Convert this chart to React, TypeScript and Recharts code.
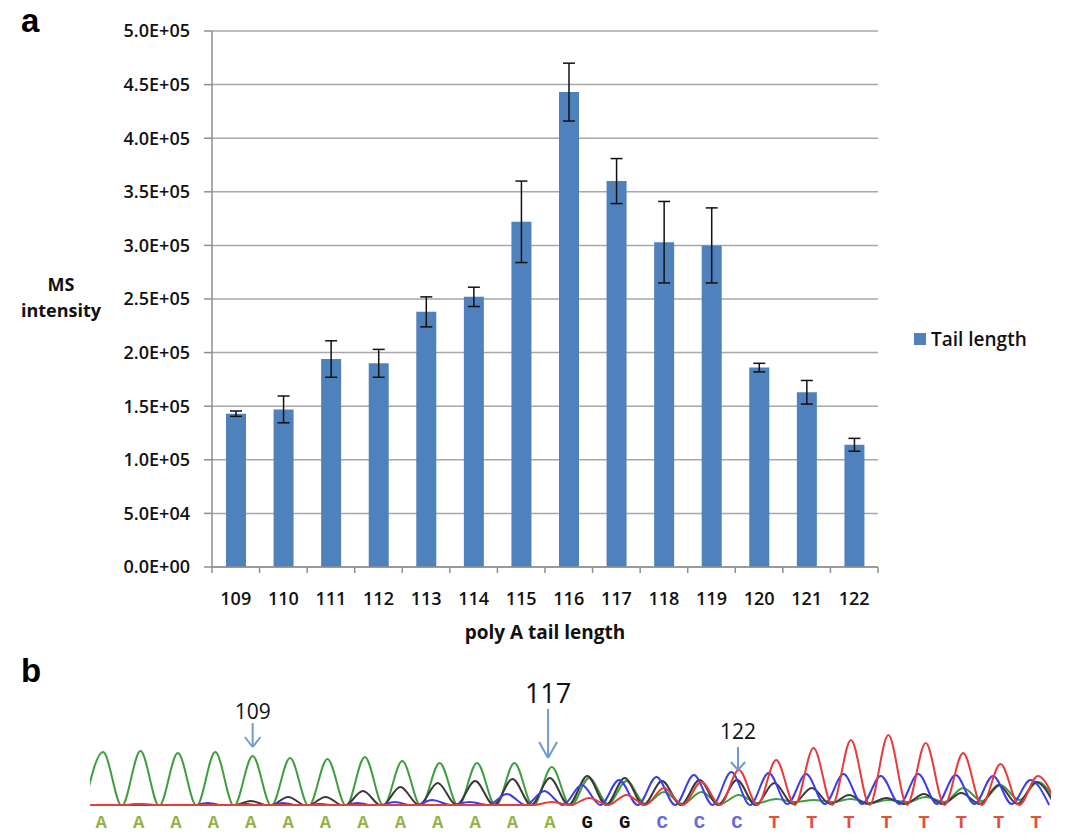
import {
  BarChart,
  Bar,
  ErrorBar,
  XAxis,
  YAxis,
  CartesianGrid,
  Legend,
  Label,
  LineChart,
  Line,
  ReferenceLine,
} from 'recharts'

// panel a: MS intensity per poly A tail length
const tailLengths = ['109', '110', '111', '112', '113', '114', '115', '116', '117', '118', '119', '120', '121', '122']
const msIntensity = [143000, 147000, 194000, 190000, 238000, 252000, 322000, 443000, 360000, 303000, 300000, 186000, 163000, 114000]
const msError = [2500, 12500, 17000, 13000, 14000, 9000, 38000, 27000, 21000, 38000, 35000, 4000, 11000, 6000]
const intensityTicks = [0, 50000, 100000, 150000, 200000, 250000, 300000, 350000, 400000, 450000, 500000]

// panel b: sequencing trace, peak heights per called base
const bases = ['A', 'A', 'A', 'A', 'A', 'A', 'A', 'A', 'A', 'A', 'A', 'A', 'A', 'G', 'G', 'C', 'C', 'C', 'T', 'T', 'T', 'T', 'T', 'T', 'T', 'T']
const greenPeaks = [54, 55, 53, 54, 50, 48, 47, 49, 45, 43, 43, 43, 39, 28, 25, 14, 14, 11, 7, 6, 7, 6, 9, 18, 21, 24]
const greenTroughs = [0, 0, 0, 0, 0, 0, 0, 0, 0, 0, 0, 0, 0, 0, 2, 2, 2, 2, 3, 4, 4, 3, 4, 4, 5, 6, 2]
const blackPeaks = [1, 2, 1, 1, 5, 9, 9, 15, 19, 23, 25, 27, 28, 30, 28, 25, 26, 26, 23, 18, 11, 8, 12, 13, 21, 24]
const blackTroughs = [0, 0, 0, 0, 0, 0, 0, 0, 0, 1, 1, 1, 1, 1, 1, 1, 1, 1, 1, 2, 2, 2, 2, 2, 2, 2, 1]
const bluePeaks = [1, 1, 1, 3, 2, 3, 2, 3, 4, 6, 4, 12, 15, 21, 26, 29, 31, 34, 33, 32, 32, 30, 32, 31, 30, 26]
const blueTroughs = [0, 0, 0, 0, 0, 0, 0, 0, 0, 0, 1, 1, 1, 1, 1, 1, 1, 1, 1, 2, 2, 2, 2, 2, 2, 2, 1]
const redPeaks = [1, 2, 1, 1, 1, 1, 1, 1, 1, 1, 1, 1, 4, 8, 11, 18, 24, 36, 46, 58, 66, 71, 63, 53, 42, 30]
const redTroughs = [1, 1, 1, 1, 1, 1, 1, 1, 1, 1, 1, 1, 1, 1, 1, 1, 1, 1, 1, 1, 1, 1, 1, 1, 1, 1, 1]

const barData = tailLengths.map((len, i) => ({ len, value: msIntensity[i], err: msError[i] }))

function traceRows(peaks: number[], troughs: number[], shift: number) {
  const rows: { x: number; y: number }[] = []
  peaks.forEach((h, i) => {
    rows.push({ x: i - 0.5 + shift, y: troughs[i] })
    rows.push({ x: i + shift, y: h })
  })
  rows.push({ x: peaks.length - 0.5 + shift, y: troughs[peaks.length] })
  return rows
}

const greenRows = traceRows(greenPeaks, greenTroughs, 0.05)
const blackRows = traceRows(blackPeaks, blackTroughs, 0)
const blueRows = traceRows(bluePeaks, blueTroughs, -0.15)
const redRows = traceRows(redPeaks, redTroughs, 0.05)

const baseColors: Record<string, string> = { A: '#93b447', G: '#111111', C: '#6a6ad8', T: '#e4503c' }

const PLOT_W = 666
const STEP = PLOT_W / tailLengths.length
const AXIS_GREY = '#8e8e8e'

function fmtSci(v: number) {
  const [m, e] = v.toExponential(1).split('e')
  return `${m}E${e[0]}${e.slice(1).padStart(2, '0')}`
}

function LengthTick(props: any) {
  const { x, y, payload, index } = props
  const left = x - STEP / 2
  return (
    <g>
      <line x1={left} x2={left} y1={y} y2={y + 6} stroke={AXIS_GREY} strokeWidth={1.5} />
      {index === tailLengths.length - 1 && (
        <line x1={x + STEP / 2} x2={x + STEP / 2} y1={y} y2={y + 6} stroke={AXIS_GREY} strokeWidth={1.5} />
      )}
      <text x={x} y={y + 38} textAnchor="middle" fontSize={18} fontWeight={600} fill="#111" fontFamily="Open Sans">
        {payload.value}
      </text>
    </g>
  )
}

function MsLabel(props: any) {
  const { viewBox } = props
  const cx = viewBox.x + 61
  return (
    <text x={cx} y={viewBox.y + 260} textAnchor="middle" fontSize={18} fontWeight={700} fill="#111" fontFamily="Open Sans">
      <tspan x={cx}>MS</tspan>
      <tspan x={cx} dy={26}>intensity</tspan>
    </text>
  )
}

function TailLabel(props: any) {
  const { viewBox } = props
  return (
    <text x={viewBox.x + viewBox.width / 2} y={viewBox.y + 72} textAnchor="middle" fontSize={19} fontWeight={700} fill="#111" fontFamily="Open Sans">
      poly A tail length
    </text>
  )
}

function LegendBox() {
  return (
    <div style={{ display: 'flex', alignItems: 'center', fontFamily: 'Open Sans', fontSize: 19, fontWeight: 600, color: '#111' }}>
      <span style={{ width: 12, height: 12, background: '#4f81bd', marginRight: 5, display: 'inline-block' }} />
      Tail length
    </div>
  )
}

function BaseTick(props: any) {
  const { x, y, payload } = props
  const b = bases[payload.value]
  return (
    <text x={x} y={y + 22} textAnchor="middle" fontSize={19} fontWeight={700} fill={baseColors[b]} fontFamily="Liberation Mono">
      {b}
    </text>
  )
}

const arrow = { stroke: '#6f9bd1', strokeWidth: 2 }

export default function App() {
  return (
    <div style={{ position: 'absolute', left: 0, top: 0, width: 1068, height: 840, background: '#fff', fontFamily: 'Open Sans' }}>
      <div style={{ position: 'absolute', left: 21, top: 2, fontFamily: 'Liberation Sans', fontWeight: 700, fontSize: 33, lineHeight: '38px' }}>a</div>
      <div style={{ position: 'absolute', left: 21, top: 652, fontFamily: 'Liberation Sans', fontWeight: 700, fontSize: 33, lineHeight: '38px' }}>b</div>

      <div style={{ position: 'absolute', left: 0, top: 0 }}>
        <BarChart width={1068} height={660} data={barData} margin={{ top: 31, right: 190, bottom: 13, left: 0 }}>
          <CartesianGrid vertical={false} stroke="#a8a8a8" strokeWidth={1.5} />
          <XAxis
            dataKey="len"
            height={80}
            interval={0}
            tickSize={0}
            tickMargin={0}
            tickLine={false}
            axisLine={{ stroke: AXIS_GREY, strokeWidth: 1.5 }}
            tick={<LengthTick />}
          >
            <Label content={<TailLabel />} />
          </XAxis>
          <YAxis
            width={212}
            domain={[0, 500000]}
            ticks={intensityTicks}
            interval={0}
            tickFormatter={fmtSci}
            tickSize={8}
            tickMargin={14}
            tickLine={{ stroke: AXIS_GREY, strokeWidth: 1.5 }}
            axisLine={{ stroke: AXIS_GREY, strokeWidth: 1.5 }}
            tick={{ fill: '#111', fontSize: 18, fontWeight: 600, fontFamily: 'Open Sans' }}
          >
            <Label content={<MsLabel />} />
          </YAxis>
          <Legend
            layout="horizontal"
            align="center"
            verticalAlign="middle"
            content={<LegendBox />}
            wrapperStyle={{ left: 914, top: 326, width: 150 }}
          />
          <Bar dataKey="value" name="Tail length" fill="#4f81bd" barSize={20} isAnimationActive={false}>
            <ErrorBar dataKey="err" width={6} stroke="#111" strokeWidth={1.5} />
          </Bar>
        </BarChart>
      </div>

      <div style={{ position: 'absolute', left: 0, top: 640 }}>
        <LineChart width={1068} height={200} margin={{ top: 46, right: 17, bottom: 0, left: 90 }}>
          <XAxis
            type="number"
            dataKey="x"
            domain={[-0.3, 25.4]}
            allowDataOverflow
            ticks={bases.map((_, i) => i)}
            interval={0}
            height={34}
            tickSize={0}
            tickMargin={0}
            tickLine={false}
            axisLine={false}
            tick={<BaseTick />}
          />
          <YAxis hide type="number" domain={[0, 120]} allowDataOverflow />
          <Line data={greenRows} dataKey="y" type="monotone" stroke="#3f9f3f" strokeWidth={2} dot={false} isAnimationActive={false} />
          <Line data={blackRows} dataKey="y" type="monotone" stroke="#3a3a3a" strokeWidth={2} dot={false} isAnimationActive={false} />
          <Line data={blueRows} dataKey="y" type="monotone" stroke="#3d3df0" strokeWidth={2} dot={false} isAnimationActive={false} />
          <Line data={redRows} dataKey="y" type="monotone" stroke="#e83c3c" strokeWidth={2} dot={false} isAnimationActive={false} />

          <ReferenceLine segment={[{ x: 4.05, y: 83 }, { x: 4.05, y: 59 }]} {...arrow} label={{ value: '109', position: 'top', offset: 4, fontSize: 21, fill: '#111' }} />
          <ReferenceLine segment={[{ x: 3.84, y: 69 }, { x: 4.05, y: 59 }]} {...arrow} />
          <ReferenceLine segment={[{ x: 4.26, y: 69 }, { x: 4.05, y: 59 }]} {...arrow} />

          <ReferenceLine segment={[{ x: 11.95, y: 97 }, { x: 11.95, y: 48 }]} {...arrow} label={{ value: '117', position: 'top', offset: 6, fontSize: 27, fill: '#111' }} />
          <ReferenceLine segment={[{ x: 11.71, y: 64 }, { x: 11.95, y: 48 }]} {...arrow} />
          <ReferenceLine segment={[{ x: 12.19, y: 64 }, { x: 11.95, y: 48 }]} {...arrow} />

          <ReferenceLine segment={[{ x: 17.03, y: 59 }, { x: 17.03, y: 36 }]} {...arrow} label={{ value: '122', position: 'top', offset: 8, fontSize: 21, fill: '#111' }} />
          <ReferenceLine segment={[{ x: 16.84, y: 44 }, { x: 17.03, y: 36 }]} {...arrow} />
          <ReferenceLine segment={[{ x: 17.22, y: 44 }, { x: 17.03, y: 36 }]} {...arrow} />
        </LineChart>
      </div>
    </div>
  )
}
